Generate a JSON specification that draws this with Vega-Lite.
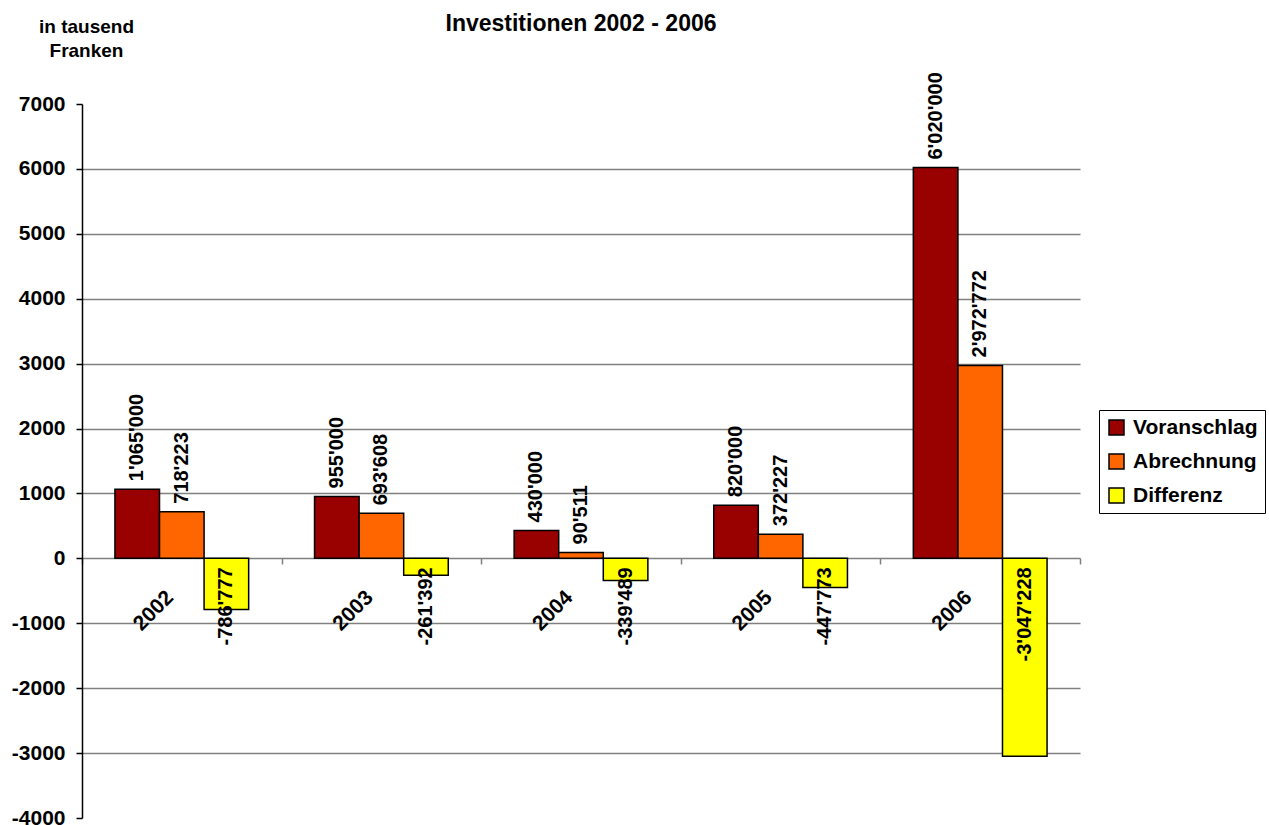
{
  "$schema": "https://vega.github.io/schema/vega-lite/v6.json",
  "width": 998,
  "height": 714,
  "autosize": {"type": "none"},
  "padding": {"left": 82, "top": 104, "right": 189, "bottom": 7},
  "background": "white",
  "config": {"font": "Liberation Sans", "view": {"stroke": null}},
  "title": {"text": "Investitionen 2002 - 2006", "fontSize": 23, "font": "Liberation Sans", "fontWeight": "bold", "color": "black", "anchor": "middle", "frame": "group", "offset": 0, "dy": 19},
  "data": {
    "values": [
      {"jahr": "2002", "serie": "Voranschlag", "wert": 1065.0, "label": "1'065'000"},
      {"jahr": "2002", "serie": "Abrechnung", "wert": 718.223, "label": "718'223"},
      {"jahr": "2002", "serie": "Differenz", "wert": -786.777, "label": "-786'777"},
      {"jahr": "2003", "serie": "Voranschlag", "wert": 955.0, "label": "955'000"},
      {"jahr": "2003", "serie": "Abrechnung", "wert": 693.608, "label": "693'608"},
      {"jahr": "2003", "serie": "Differenz", "wert": -261.392, "label": "-261'392"},
      {"jahr": "2004", "serie": "Voranschlag", "wert": 430.0, "label": "430'000"},
      {"jahr": "2004", "serie": "Abrechnung", "wert": 90.511, "label": "90'511"},
      {"jahr": "2004", "serie": "Differenz", "wert": -339.489, "label": "-339'489"},
      {"jahr": "2005", "serie": "Voranschlag", "wert": 820.0, "label": "820'000"},
      {"jahr": "2005", "serie": "Abrechnung", "wert": 372.227, "label": "372'227"},
      {"jahr": "2005", "serie": "Differenz", "wert": -447.773, "label": "-447'773"},
      {"jahr": "2006", "serie": "Voranschlag", "wert": 6020.0, "label": "6'020'000"},
      {"jahr": "2006", "serie": "Abrechnung", "wert": 2972.772, "label": "2'972'772"},
      {"jahr": "2006", "serie": "Differenz", "wert": -3047.228, "label": "-3'047'228"}
    ]
  },
  "encoding": {
    "x": {
      "field": "jahr",
      "type": "nominal",
      "scale": {"paddingInner": 0, "paddingOuter": 0},
      "axis": {
        "orient": "bottom",
        "offset": -260,
        "title": null,
        "labelAngle": -45,
        "labelAlign": "right",
        "labelBaseline": "middle",
        "labelPadding": 30,
        "labelOffset": -12,
        "tickBand": "extent",
        "tickSize": 6,
        "tickColor": "#808080",
        "tickWidth": 1.5,
        "domainColor": "#808080",
        "domainWidth": 1.5,
        "labelFontSize": 21,
        "labelFontWeight": "bold",
        "labelColor": "black",
        "grid": false
      }
    },
    "xOffset": {
      "field": "serie",
      "type": "nominal",
      "sort": ["Voranschlag", "Abrechnung", "Differenz"],
      "scale": {"paddingInner": 0, "paddingOuter": 0.739}
    },
    "y": {
      "field": "wert",
      "type": "quantitative",
      "scale": {"domain": [-4000, 7000], "nice": false, "zero": false},
      "axis": {
        "values": [-4000, -3000, -2000, -1000, 0, 1000, 2000, 3000, 4000, 5000, 6000, 7000],
        "labelExpr": "'' + datum.value",
        "grid": true,
        "gridColor": "#808080",
        "gridWidth": 1.5,
        "gridOpacity": {"condition": {"test": "datum.value == 0 || datum.value == 7000 || datum.value == -4000", "value": 0}, "value": 1},
        "title": ["in tausend", "Franken"],
        "titleAngle": 0,
        "titleAlign": "center",
        "titleBaseline": "top",
        "titleX": 4,
        "titleY": -87,
        "titleFontSize": 19,
        "titleLineHeight": 24,
        "titleFontWeight": "bold",
        "titleColor": "black",
        "domainColor": "black",
        "domainWidth": 1.5,
        "tickColor": "black",
        "tickWidth": 1.5,
        "tickSize": 6,
        "labelPadding": 11,
        "labelFontSize": 21,
        "labelFontWeight": "bold",
        "labelColor": "black"
      }
    }
  },
  "layer": [
    {
      "mark": {"type": "bar", "stroke": "black", "strokeWidth": 1.5},
      "encoding": {
        "color": {
          "field": "serie",
          "type": "nominal",
          "scale": {"domain": ["Voranschlag", "Abrechnung", "Differenz"], "range": ["#990000", "#FF6600", "#FFFF00"]},
          "legend": {
            "title": null,
            "orient": "none",
            "legendX": 1017,
            "legendY": 306,
            "strokeColor": "black",
            "fillColor": "white",
            "padding": 7,
            "symbolType": "square",
            "symbolSize": 225,
            "symbolStrokeColor": "black",
            "symbolStrokeWidth": 1.5,
            "labelFontSize": 21,
            "labelFontWeight": "bold",
            "labelColor": "black",
            "labelOffset": 6,
            "labelLimit": 300,
            "rowPadding": 12
          }
        }
      }
    },
    {
      "transform": [{"filter": "datum.wert > 0"}],
      "mark": {"type": "text", "angle": -90, "align": "left", "baseline": "middle", "dx": 8, "fontSize": 20, "fontWeight": "bold", "color": "black"},
      "encoding": {"text": {"field": "label"}}
    },
    {
      "transform": [{"filter": "datum.wert < 0"}],
      "mark": {"type": "text", "angle": -90, "align": "right", "baseline": "middle", "dx": -9, "fontSize": 20, "fontWeight": "bold", "color": "black"},
      "encoding": {"y": {"datum": 0}, "text": {"field": "label"}}
    }
  ]
}
